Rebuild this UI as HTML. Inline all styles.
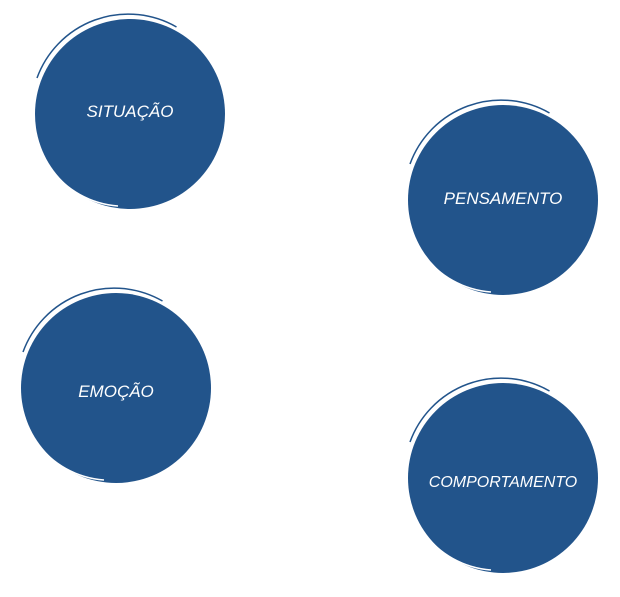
<!DOCTYPE html>
<html><head><style>html,body{margin:0;padding:0;background:#fff;}</style></head>
<body>
<svg width="620" height="592" viewBox="0 0 620 592" xmlns="http://www.w3.org/2000/svg">
<g fill="#22548b">
<circle cx="130" cy="114" r="95"/>
<circle cx="503" cy="200" r="95"/>
<circle cx="116" cy="388" r="95"/>
<circle cx="503" cy="478" r="95"/>
</g>
<g fill="none" stroke="#22548b" stroke-width="1.5">
<path d="M37 78 A97 97 0 0 1 176.5 27"/>
<path d="M410 164 A97 97 0 0 1 549.5 113"/>
<path d="M23 352 A97 97 0 0 1 162.5 301"/>
<path d="M410 442 A97 97 0 0 1 549.5 391"/>
</g>
<g fill="none" stroke="#fff" stroke-width="1.5">
<path d="M50 168 A92 92 0 0 0 118 206"/>
<path d="M423 254 A92 92 0 0 0 491 292"/>
<path d="M36 442 A92 92 0 0 0 104 480"/>
<path d="M423 532 A92 92 0 0 0 491 570"/>
</g>
<g fill="#fff" font-family="Liberation Sans, sans-serif" font-style="italic" font-size="17" text-anchor="middle">
<text x="130" y="117">SITUAÇÃO</text>
<text x="503" y="204">PENSAMENTO</text>
<text x="116" y="397">EMOÇÃO</text>
<text x="503" y="487" font-size="16">COMPORTAMENTO</text>
</g>
</svg>
</body></html>
